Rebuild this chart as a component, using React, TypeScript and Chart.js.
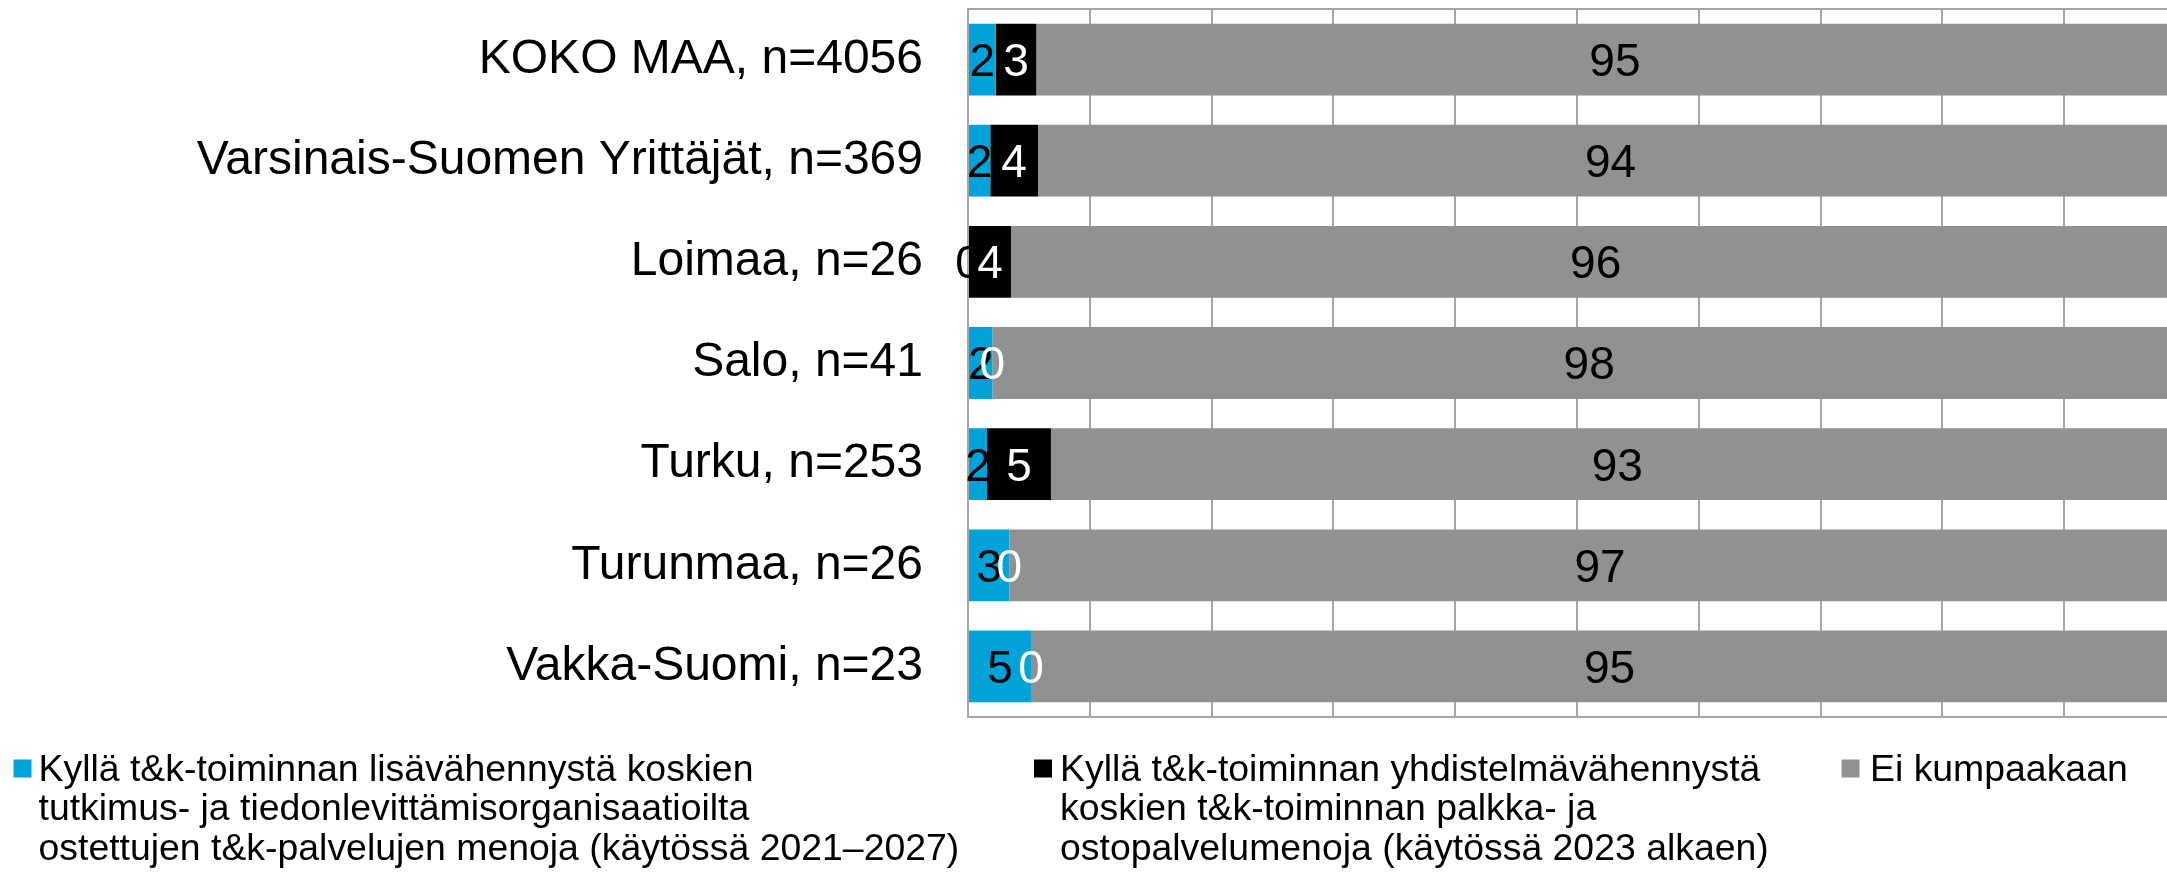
import React, { useEffect, useRef } from 'react';
import { Chart, registerables } from 'chart.js';

Chart.register(...registerables);

// ---- Data ----
const categories = [
  'KOKO MAA, n=4056',
  'Varsinais-Suomen Yrittäjät, n=369',
  'Loimaa, n=26',
  'Salo, n=41',
  'Turku, n=253',
  'Turunmaa, n=26',
  'Vakka-Suomi, n=23',
];

const lisavahennys = [2.27, 1.83, 0, 2.0, 1.56, 3.39, 5.17];
const yhdistelmavahennys = [3.34, 3.92, 3.53, 0, 5.25, 0, 0];
const eiKumpaakaan = [95, 94, 96, 98, 93, 97, 95];

const seriesNames = [
  'Kyllä t&k-toiminnan lisävähennystä koskien tutkimus- ja tiedonlevittämisorganisaatioilta ostettujen t&k-palvelujen menoja (käytössä 2021–2027)',
  'Kyllä t&k-toiminnan yhdistelmävähennystä koskien t&k-toiminnan palkka- ja ostopalvelumenoja (käytössä 2023 alkaen)',
  'Ei kumpaakaan',
];

const legendLines = [
  [
    'Kyllä t&k-toiminnan lisävähennystä koskien',
    'tutkimus- ja tiedonlevittämisorganisaatioilta',
    'ostettujen t&k-palvelujen menoja (käytössä 2021–2027)',
  ],
  [
    'Kyllä t&k-toiminnan yhdistelmävähennystä',
    'koskien t&k-toiminnan palkka- ja',
    'ostopalvelumenoja (käytössä 2023 alkaen)',
  ],
  ['Ei kumpaakaan'],
];

const xGridValues = [0, 10, 20, 30, 40, 50, 60, 70, 80, 90, 100];

// ---- Styles ----
const BLUE = '#00A2DA';
const BLACK = '#000000';
const GRAY = '#919191';
const GRID = '#A6A6A6';
const FONT = '"Liberation Sans", Arial, Helvetica, sans-serif';
const labelColors = ['#000000', '#FFFFFF', '#000000'];
const seriesColors = [BLUE, BLACK, GRAY];

const W = 2167;
const H = 873;

const dataLabelPlugin = {
  id: 'dataLabels',
  afterDatasetsDraw(chart: any) {
    const ctx = chart.ctx;
    const size = 46;
    ctx.save();
    ctx.font = `${size}px ${FONT}`;
    ctx.textAlign = 'center';
    ctx.textBaseline = 'alphabetic';
    chart.data.datasets.forEach((ds: any, i: number) => {
      const meta = chart.getDatasetMeta(i);
      meta.data.forEach((el: any, j: number) => {
        const v = ds.data[j];
        const cx = (el.x + el.base) / 2;
        ctx.fillStyle = labelColors[i];
        ctx.fillText(String(Math.round(v)), cx, el.y + size * 0.358);
      });
    });
    ctx.restore();
  },
};

const frameAndLegendPlugin = {
  id: 'frameLegend',
  beforeDatasetsDraw(chart: any) {
    const { ctx, chartArea } = chart;
    ctx.save();
    ctx.strokeStyle = GRID;
    ctx.lineWidth = 2;
    ctx.beginPath();
    ctx.moveTo(chartArea.left, chartArea.top);
    ctx.lineTo(chartArea.right, chartArea.top);
    ctx.stroke();
    ctx.restore();
  },
  afterDraw(chart: any) {
    const ctx = chart.ctx;
    const size = 37.4;
    const items = [
      { sx: 13.5, tx: 38.5 },
      { sx: 1034, tx: 1060 },
      { sx: 1841.5, tx: 1870 },
    ];
    const baseline0 = 780.5;
    const lineH = 39.5;
    ctx.save();
    ctx.font = `${size}px ${FONT}`;
    ctx.textAlign = 'left';
    ctx.textBaseline = 'alphabetic';
    items.forEach((it, i) => {
      ctx.fillStyle = seriesColors[i];
      ctx.fillRect(it.sx, 759.5, 18, 18);
      ctx.fillStyle = '#000000';
      legendLines[i].forEach((line, k) => {
        ctx.fillText(line, it.tx, baseline0 + k * lineH);
      });
    });
    ctx.restore();
  },
};

export default function App() {
  const canvasRef = useRef<HTMLCanvasElement | null>(null);

  useEffect(() => {
    if (!canvasRef.current) return;
    const chart = new Chart(canvasRef.current, {
      type: 'bar',
      data: {
        labels: categories,
        datasets: [
          { label: seriesNames[0], data: lisavahennys, backgroundColor: BLUE },
          { label: seriesNames[1], data: yhdistelmavahennys, backgroundColor: BLACK },
          { label: seriesNames[2], data: eiKumpaakaan, backgroundColor: GRAY },
        ],
      },
      options: {
        indexAxis: 'y',
        animation: false,
        responsive: false,
        devicePixelRatio: 1,
        layout: { padding: { top: 9, bottom: H - 717, left: 0, right: 0 } },
        datasets: {
          bar: { categoryPercentage: 1, barPercentage: 0.71, borderWidth: 0 },
        },
        plugins: {
          legend: { display: false },
          tooltip: { enabled: false },
          title: { display: false },
        },
        scales: {
          x: {
            type: 'linear',
            stacked: true,
            min: 0,
            max: (W - 968) / 12.18,
            afterBuildTicks: (scale: any) => {
              scale.ticks = xGridValues
                .filter((v) => v <= scale.max)
                .map((v) => ({ value: v }));
            },
            afterFit: (scale: any) => {
              scale.height = 0;
              scale.paddingLeft = 0;
              scale.paddingRight = 0;
              scale.paddingTop = 0;
              scale.paddingBottom = 0;
            },
            ticks: { display: false },
            grid: { color: GRID, lineWidth: 2, drawTicks: false },
            border: { display: true, color: GRID, width: 2 },
          },
          y: {
            type: 'category',
            stacked: true,
            afterFit: (scale: any) => {
              scale.width = 968;
              scale.paddingTop = 0;
              scale.paddingBottom = 0;
              scale.paddingLeft = 0;
              scale.paddingRight = 0;
            },
            ticks: {
              color: '#000000',
              padding: 45,
              font: { size: 48, family: FONT },
            },
            grid: { display: false, drawTicks: false },
            border: { display: true, color: GRID, width: 2 },
          },
        },
      },
      plugins: [dataLabelPlugin, frameAndLegendPlugin],
    } as any);
    return () => chart.destroy();
  }, []);

  return (
    <div style={{ position: 'absolute', left: 0, top: 0, width: W, height: H, background: '#fff' }}>
      <canvas ref={canvasRef} width={W} height={H} style={{ display: 'block', width: W, height: H }} />
    </div>
  );
}
